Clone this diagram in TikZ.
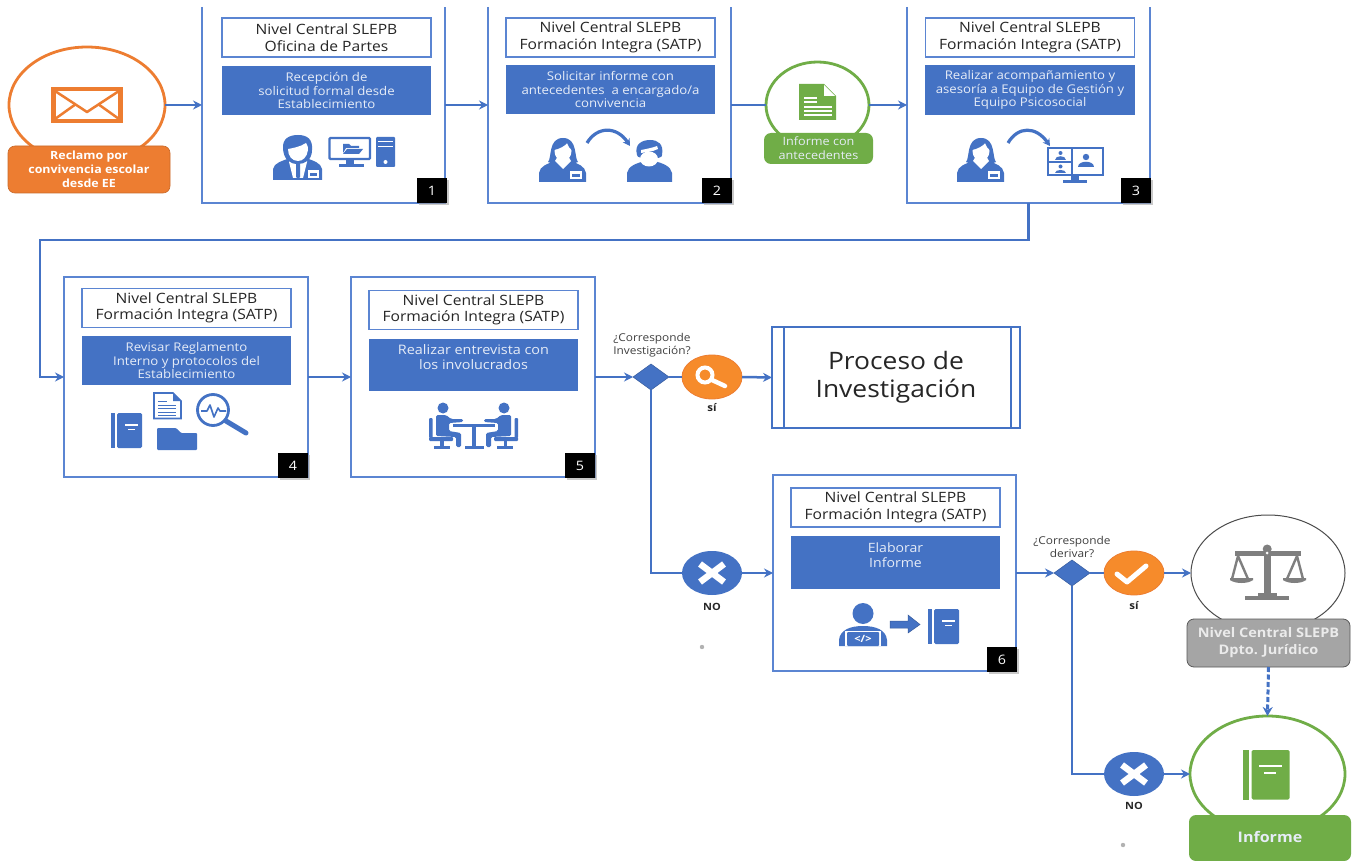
\documentclass[tikz,border=0pt]{standalone}
\usepackage{fontspec}
\setmainfont[FakeStretch=1.1]{Open Sans}
\usetikzlibrary{arrows.meta,shapes.geometric}
\definecolor{bl}{HTML}{4472C4}
\definecolor{lin}{HTML}{5B85D2}
\definecolor{org}{HTML}{ED7D31}
\definecolor{org2}{HTML}{F68B2B}
\definecolor{grn}{HTML}{70AD47}
\definecolor{gry}{HTML}{A5A5A5}
\definecolor{gryd}{HTML}{7F7F7F}
\definecolor{txt}{HTML}{E6ECF7}
\tikzset{
 x=1pt,y=-1pt,
 every node/.style={inner sep=0pt,outer sep=0pt,align=center},
 procbox/.style={minimum width=243pt,minimum height=196pt},
 frame/.style={draw=lin,line width=1.7pt},
 titlebox/.style={draw=lin,line width=1.5pt,fill=white,minimum width=209pt,minimum height=39pt,font=\fontsize{14.2}{16.5}\selectfont,text=black!85},
 actbox/.style={fill=bl,minimum width=209pt,minimum height=49pt,font=\fontsize{12}{13.7}\selectfont,text=txt},
 badge/.style={fill=black,minimum width=30pt,minimum height=25pt,text=white,font=\fontsize{13}{15}\selectfont},
 flow/.style={draw=bl,line width=2.5pt,-{Stealth[length=9pt,width=9pt]}},
 plainflow/.style={draw=bl,line width=2.5pt},
 bigell/.style={ellipse,fill=white,minimum width=156pt,minimum height=116pt,line width=2.8pt},
 lab/.style={rounded corners=7pt,font=\bfseries\fontsize{11.3}{14}\selectfont,text=white},
 dia/.style={diamond,fill=bl,draw=bl!80!black,line width=.5pt,minimum width=36pt,minimum height=26pt,shape aspect=1.38},
 dec/.style={ellipse,minimum width=60pt,minimum height=44pt},
 ask/.style={font=\fontsize{10.8}{12.5}\selectfont,text=black!75},
 ans/.style={font=\bfseries\fontsize{10.5}{12}\selectfont,text=black!85},
 ic/.style={fill=bl,draw=none},
 whit/.style={fill=white,draw=none},
}
\newcommand{\shadowat}[2]{\fill[black!35,opacity=.6] (#1+2,#2+2) rectangle (#1+32,#2+27);}
\tikzset{
 womanicon/.pic={
  \fill[bl] (9,24) .. controls (13,20) and (9,0) .. (24,0) .. controls (39,0) and (35,20) .. (39,24) .. controls (33,27) and (15,27) .. (9,24) -- cycle;
  \fill[bl] (0,44) -- (0,35) .. controls (1,28) and (8,26) .. (16,23) -- (32,23) .. controls (39,26) and (46,28) .. (47,35) -- (47,44) -- cycle;
  \fill[white] (16,23) -- (24,31) -- (32,23) -- (29,18) -- (19,18) -- cycle;
  \fill[white] (24,13) ellipse (8.5 and 10);
  \fill[bl] (15,12) .. controls (20,11) and (26,8) .. (28,5) .. controls (29,8) and (31,11) .. (33,12) .. controls (34,3) and (28,2) .. (24,2) .. controls (19,2) and (14,4) .. (15,12) -- cycle;
  \fill[white] (31,33) rectangle (43,41);
  \fill[bl] (33,36) rectangle (41,39);
 },
 bookicon/.pic={
  \fill[pic actions] (0,0) rectangle (3.5,35);
  \fill[pic actions,rounded corners=1.5pt] (6,0) rectangle (31,35);
  \fill[white] (14,10.5) rectangle (27,12.5);
  \fill[white] (17,15.5) rectangle (24,17);
 },
}
\begin{document}
\begin{tikzpicture}
\useasboundingbox (0,0) rectangle (1353,861);
\fill[white] (0,0) rectangle (1353,861);

% process frames
\node (box1) [procbox] at (323.5,105) {};
\node (box2) [procbox] at (609.5,105) {};
\node (box3) [procbox] at (1028.5,105) {};
\node (box4) [procbox,minimum width=244pt,minimum height=200pt] at (186,377) {};
\node (box5) [procbox,minimum width=244pt,minimum height=200pt] at (473,377) {};
\node (box6) [procbox] at (894.5,573) {};
\foreach \b in {box1,box2,box3}{
 \draw[frame] (\b.north west) -- (\b.south west) -- (\b.south east) -- (\b.north east);
}
\foreach \b in {box4,box5,box6}{
 \draw[frame] (\b.north west) rectangle (\b.south east);
}

% connector ends
\coordinate (turnA) at (40,240);

% start / intermediate circles
\node (env) [bigell,draw=org] at (87,105) {};
\node (envlab) [lab,fill=org,draw=org!85!black,line width=.6pt,minimum width=162pt,minimum height=47pt] at (89,169.5) {Reclamo por\\convivencia escolar\\desde EE};
\node (inf) [ellipse,fill=white,draw=grn,line width=2.8pt,minimum width=103pt,minimum height=86pt] at (817.5,105) {};
\node (inflab) [lab,fill=grn,minimum width=109pt,minimum height=31pt,font=\fontsize{11.5}{14}\selectfont,text=txt] at (818.5,148.5) {Informe con\\antecedentes};

% titles
\node (t1) [titlebox] at (326.5,37.5) {Nivel Central SLEPB\\Oficina de Partes};
\node (a1) [actbox] at (326.5,90.5) {Recepción de\\solicitud formal desde\\Establecimiento};
\node (t2) [titlebox] at (610.5,37.5) {Nivel Central SLEPB\\Formación Integra (SATP)};
\node (a2) [actbox] at (610.5,89.5) {Solicitar informe con\\antecedentes\ \ a encargado/a\\convivencia};
\node (t3) [titlebox] at (1030,37.5) {Nivel Central SLEPB\\Formación Integra (SATP)};
\node (a3) [actbox,minimum width=210pt,minimum height=50pt] at (1030,90) {Realizar acompañamiento y\\asesoría a Equipo de Gestión y\\Equipo Psicosocial};
\node (t4) [titlebox] at (186.5,308) {Nivel Central SLEPB\\Formación Integra (SATP)};
\node (a4) [actbox] at (186.5,360.5) {Revisar Reglamento\\Interno y protocolos del\\Establecimiento};
\node (t5) [titlebox] at (473.5,310) {Nivel Central SLEPB\\Formación Integra (SATP)};
\node (a5) [actbox,minimum height=52pt,font=\fontsize{13.1}{15}\selectfont] at (473.5,365) {Realizar entrevista con\\los involucrados\\[-4pt]\strut};
\node (t6) [titlebox] at (895.5,507.5) {Nivel Central SLEPB\\Formación Integra (SATP)};
\node (a6) [actbox,minimum height=53pt,font=\fontsize{12.8}{15}\selectfont] at (895.5,562.5) {Elaborar\\Informe\\[-4pt]\strut};

% badges
\shadowat{417}{178}\node (n1) [badge] at (432,190.5) {1};
\shadowat{702}{178}\node (n2) [badge] at (717,190.5) {2};
\shadowat{1121}{178}\node (n3) [badge] at (1136,190.5) {3};
\shadowat{278}{453}\node (n4) [badge] at (293,465.5) {4};
\shadowat{565}{453}\node (n5) [badge] at (580,465.5) {5};
\shadowat{987}{647}\node (n6) [badge] at (1002,659.5) {6};

% sub-process
\node (proc) [draw=bl,line width=2.8pt,fill=white,minimum width=248pt,minimum height=101pt,font=\fontsize{24}{28}\selectfont,text=black!85] at (896,377.5) {\raisebox{-1pt}{Proceso de}\\\raisebox{-1pt}{Investigación}};
\draw[bl,line width=2.8pt] (784,327) -- (784,428) (1011,327) -- (1011,428);

% decisions
\node (d1) [dia] at (651,377) {};
\node (yes1) [dec,fill=org2,draw=org,line width=.8pt] at (712,377) {};
\node (no1) [dec,fill=bl] at (712,573) {};
\node (d2) [dia] at (1072,573) {};
\node (yes2) [dec,fill=org2,draw=org,line width=.8pt] at (1134,573) {};
\node (no2) [dec,fill=bl] at (1134,774) {};
\node (q1) [ask] at (652,345) {¿Corresponde\\Investigación?};
\node (q2) [ask] at (1072,547) {¿Corresponde\\derivar?};
\node (s1) [ans] at (712,408) {sí};
\node (s2) [ans] at (1134,606) {sí};
\node (nn1) [ans,font=\bfseries\fontsize{10}{12}\selectfont] at (712,607) {NO};
\node (nn2) [ans,font=\bfseries\fontsize{10}{12}\selectfont] at (1134,806) {NO};

% final circles
\node (jur) [bigell,draw=black!70,line width=1pt,minimum width=154pt] at (1268,573) {};
\node (jurlab) [lab,fill=gry,draw=black!65,line width=.8pt,minimum width=163pt,minimum height=48pt,font=\bfseries\fontsize{13.2}{17}\selectfont,text=white!92!black] at (1268.5,643) {Nivel Central SLEPB\\Dpto. Jurídico};
\node (fin) [bigell,draw=grn,minimum width=155pt] at (1267.5,774) {};
\node (finlab) [lab,fill=grn,minimum width=162pt,minimum height=46pt,font=\bfseries\fontsize{14.6}{16}\selectfont,text=txt] at (1270,838) {\raisebox{2pt}{Informe}};

% connectors
\draw[flow] (env.east) -- (box1.west);
\draw[flow] (box1.east) -- (box2.west);
\draw[plainflow] (box2.east) -- (inf.west);
\draw[flow] (inf.east) -- (box3.west);
\draw[flow] (box3.south) |- (turnA) |- (box4.west);
\draw[flow] (box4.east) -- (box5.west);
\draw[flow] (box5.east) -- (d1.west);
\draw[plainflow] (d1.east) -- (yes1.west);
\draw[flow] (yes1.east) -- (proc.west);
\draw[plainflow] (d1.south) |- (no1.west);
\draw[flow] (no1.east) -- (box6.west);
\draw[flow] (box6.east) -- (d2.west);
\draw[plainflow] (d2.east) -- (yes2.west);
\draw[flow] (yes2.east) -- (jur.west);
\draw[plainflow] (d2.south) |- (no2.west);
\draw[flow] (no2.east) -- (fin.west);
\draw[flow,line width=3pt,dash pattern=on 5pt off 2.5pt,-{Stealth[length=9pt,width=10pt]}] (jurlab.south) -- (fin.north);

% stray dots
\fill[black!30] (702,647) circle (2.2);
\fill[black!30] (1123,845) circle (2.2);

% envelope
\fill[org] (51,87) rectangle (123,123);
\fill[white] (56,91) rectangle (118,119);
\draw[org,line width=2.5pt,line join=round] (55,91) -- (87,112) -- (119,91);
\draw[org,line width=2.5pt] (55,119) -- (76,104) (119,119) -- (98,104);

% green document
\fill[grn] (799,84) -- (824,84) -- (836,96) -- (836,120) -- (799,120) -- cycle;
\fill[white] (824,85) -- (824,96) -- (835,96) -- cycle;
\foreach \yy/\xx in {97/817,101/817,106/832,110/832,114/832}{\fill[white] (804,\yy) rectangle (\xx,\yy+1.7);}

% male with badge (box 1)
\fill[bl] (273,180) -- (273,169) .. controls (274,163) and (282,161) .. (290,158) -- (306,158) .. controls (314,161) and (321,163) .. (322,169) -- (322,180) -- cycle;
\fill[white] (289,156) -- (297,163) -- (307,156) -- (307,162) -- (303,178) -- (293,178) -- (289,162) -- cycle;
\fill[bl] (296,162) rectangle (300,170) (296,170) -- (300,170) -- (300,177) -- (298,179) -- (296,177) -- cycle;
\fill[bl] (283,149) .. controls (282,138) and (290,135) .. (298,135) .. controls (307,135) and (313,139) .. (312,150) .. controls (312,160) and (305,164) .. (298,164) .. controls (290,164) and (284,160) .. (283,149) -- cycle;
\fill[white] (288,149) .. controls (293,148) and (300,147) .. (306,143) .. controls (308,146) and (308,148) .. (308,150) .. controls (307,157) and (303,161) .. (298,161) .. controls (292,161) and (288,156) .. (288,149) -- cycle;
\fill[white] (308,170) rectangle (319,178);
\fill[bl] (310,173) rectangle (317,176);
% monitor with folder
\draw[bl,line width=2.2pt,rounded corners=1pt,fill=white] (329.5,138) rectangle (370,159);
\fill[bl] (346,160) rectangle (354,164);
\fill[bl] (339,164) rectangle (364,167);
\fill[bl] (343,144) -- (349,144) -- (351,146) -- (359,146) -- (359,148) -- (346,148) -- (343,153) -- cycle;
\fill[bl] (347,149) -- (363,149) -- (359,154) -- (343,154) -- cycle;
% tower
\fill[bl,rounded corners=1pt] (376,137) rectangle (395,167);
\fill[white] (378,141) rectangle (393,142.5);
\fill[white] (378,146) rectangle (393,147.5);
\fill[white] (385.5,162) circle (2);

% woman + arc + woman (box 2)
\pic at (539,138) {womanicon};
\draw[bl,line width=3.2pt,-{Stealth[length=7pt,width=8pt]}] (587,143) .. controls (597,126) and (617,126) .. (630,146);
\fill[bl] (627,182) -- (627,173) .. controls (628,166) and (637,163) .. (645,161) -- (654,161) .. controls (662,163) and (671,166) .. (672,173) -- (672,182) -- cycle;
\fill[bl] (637,155) .. controls (634,144) and (642,140) .. (650,140) .. controls (658,140) and (664,144) .. (662,155) .. controls (664,160) and (636,160) .. (637,155) -- cycle;
\fill[white] (649,159) ellipse (9 and 7.5);
\fill[white] (641,150) .. controls (646,149) and (652,148) .. (657,146) -- (658,149) .. controls (652,152) and (646,152) .. (641,153) -- cycle;

% woman + arc + monitor (box 3)
\pic at (957,138) {womanicon};
\draw[bl,line width=3.2pt,-{Stealth[length=7pt,width=8pt]}] (1008,143) .. controls (1018,126) and (1036,126) .. (1050,146);
\draw[bl,line width=2.2pt,fill=white] (1048,148) rectangle (1103,175);
\draw[bl,line width=2pt] (1072,148) -- (1072,175) (1048,162) -- (1072,162);
\fill[bl] (1071,176) rectangle (1079,180);
\fill[bl] (1063,180) rectangle (1087,183);
\fill[bl] (1060.5,153) circle (2);
\fill[bl] (1055,160) .. controls (1055,155.5) and (1066,155.5) .. (1066,160) -- cycle;
\fill[bl] (1060.5,166.5) circle (2);
\fill[bl] (1055,173.5) .. controls (1055,169) and (1066,169) .. (1066,173.5) -- cycle;
\fill[bl] (1086,157) circle (3.2);
\fill[bl] (1078,167) .. controls (1078,160) and (1094,160) .. (1094,167) -- cycle;

% box 4 icons
\pic[bl] at (111,413) {bookicon};
\draw[bl,line width=1.6pt,fill=white] (154,393) -- (173,393) -- (181,401) -- (181,418.5) -- (154,418.5) -- cycle;
\fill[bl] (173,393) -- (173,401) -- (181,401) -- cycle;
\foreach \yy/\xx in {401/167,404.5/176,408/176,411.5/176,415/176}{\fill[bl] (158,\yy) rectangle (\xx,\yy+1.4);}
\fill[bl,rounded corners=1pt] (157,428) -- (176,428) -- (181,433) -- (197,433) -- (197,450) -- (157,450) -- cycle;
\draw[bl,line width=2.8pt] (213,410) circle (15.5);
\draw[bl,line width=5pt,line cap=round] (226,421) -- (246,433);
\draw[bl,line width=1.6pt,line join=round] (201,411) -- (207,411) -- (210,405) -- (214,417) -- (218,408) -- (220,411) -- (226,411);

% box 5 icons: meeting
\fill[bl] (453,424) rectangle (495,427);
\fill[bl] (472,427) rectangle (476,446);
\fill[bl] (465,445.5) rectangle (484,448.5);
\foreach \xf/\m in {1/0,-1/947}{
 \begin{scope}[xshift=\m pt,xscale=\xf]
  \fill[bl] (443,408) circle (5.5);
  \fill[bl,rounded corners=1.5pt] (436,415) -- (446,415) -- (451,419) -- (463,419) -- (463,422) -- (449,423) -- (449,431) -- (461,433) -- (461,447) -- (456,447) -- (456,437) -- (436,436) -- cycle;
  \fill[bl,rounded corners=1pt] (429,418) rectangle (432.5,438);
  \fill[bl,rounded corners=1pt] (429,437) rectangle (453,441);
  \fill[bl] (440,441) rectangle (443.5,446);
  \fill[bl] (434,445.5) rectangle (450,448.5);
 \end{scope}
}

% box 6 icons
\fill[bl] (863,613.5) circle (10.5);
\fill[bl] (839,646) -- (839,640) .. controls (840,630) and (850,626) .. (863,626) .. controls (876,626) and (886,630) .. (887,640) -- (887,646) -- cycle;
\fill[white] (845,646) rectangle (881,630.5);
\fill[bl,rounded corners=1pt] (847,632) rectangle (879,646);
\node (code) [text=white,font=\bfseries\fontsize{10}{10}\selectfont] at (863,638.5) {</>};
\fill[bl,draw=bl!80!black,line width=.5pt] (890,621) -- (908,621) -- (908,615) -- (920,624.5) -- (908,633) -- (908,628) -- (890,628) -- cycle;
\pic[bl] at (928,609) {bookicon};

% decision glyphs
\draw[white,line width=4pt] (705,375) circle (7.5);
\draw[white,line width=4.5pt,line cap=round] (712,380) -- (725,386);
\foreach \n in {no1,no2}{
 \draw[white,line width=6.5pt] ([shift={(-12,-9)}]\n.center) -- ([shift={(12,9)}]\n.center);
 \draw[white,line width=6.5pt] ([shift={(-12,9)}]\n.center) -- ([shift={(12,-9)}]\n.center);
}
\draw[white,line width=5pt,line cap=round,line join=round] (1117,574) -- (1127,582) -- (1146,566);

% scales
\fill[gryd] (1235,551) rectangle (1301,556);
\fill[gryd] (1264,548) rectangle (1270.5,593);
\fill[gryd] (1267.2,549) circle (4.5);
\fill[white] (1267.2,553) circle (1.5);
\fill[gryd] (1258,593) rectangle (1277,596);
\fill[gryd] (1245,596) rectangle (1289,600);
\draw[gryd,line width=2.4pt] (1238,556) -- (1232,579) (1238,556) -- (1248,579);
\draw[gryd,line width=2.4pt] (1297,556) -- (1287,579) (1297,556) -- (1303,579);
\fill[gryd] (1230,578) rectangle (1253,580) (1283,578) rectangle (1306,580);
\fill[gryd] (1230,580) .. controls (1235,584) and (1248,584) .. (1253,580) -- cycle;
\fill[gryd] (1283,580) .. controls (1288,584) and (1301,584) .. (1306,580) -- cycle;

% final book
\fill[grn] (1243,750) rectangle (1249,799.5);
\fill[grn,rounded corners=1.5pt] (1251.5,750) rectangle (1289.5,799.5);
\fill[white] (1259,764.5) rectangle (1282,767);
\fill[white] (1264,772) rectangle (1276,774);
\end{tikzpicture}
\end{document}
